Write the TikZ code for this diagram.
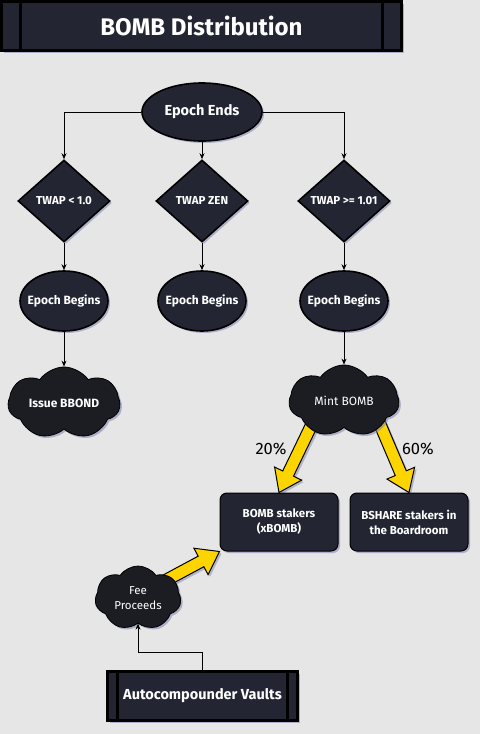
\documentclass[tikz,border=0pt]{standalone}
\usepackage{fontspec}
\setmainfont{Fira Sans}
\usetikzlibrary{arrows.meta,positioning,shapes.geometric,shapes.symbols,shadows,calc}
\definecolor{pagebg}{RGB}{230,230,230}
\definecolor{nightblue}{RGB}{35,38,50}
\definecolor{cloudblack}{RGB}{27,29,35}
\definecolor{bombyellow}{RGB}{252,212,0}
\definecolor{shadowblue}{RGB}{125,130,175}
\pgfdeclarelayer{back}
\pgfsetlayers{back,main}

% fat yellow arrow from #1 (tail) to #2 (tip)
\newcommand{\fatarrow}[2]{%
  \path (#1) coordinate (ya) (#2) coordinate (yb) ($(yb)!21pt!(ya)$) coordinate (yh);
  \filldraw[goldarrow] ($(ya)!6pt!90:(yb)$) -- ($(yh)!6pt!-90:(ya)$) -- ($(yh)!15pt!-90:(ya)$)
     -- (yb) -- ($(yh)!15pt!90:(ya)$) -- ($(yh)!6pt!90:(ya)$) -- ($(ya)!6pt!-90:(yb)$) -- cycle;}

\tikzset{%
  % Specifications for style of arrows:
   flow/.style={
           -{Stealth[length=6pt,width=5pt]},
           line width=0.8pt,
           black},
   goldarrow/.style={
           fill=bombyellow,
           draw=black,
           line width=1pt,
           drop shadow={shadow xshift=2pt, shadow yshift=-2pt, fill=shadowblue, opacity=0.5}},
  % Specifications for style of nodes:
   shade/.style = {drop shadow={shadow xshift=2pt, shadow yshift=-2pt,
                  fill=shadowblue, opacity=0.55}},
   base/.style = {draw=black, line width=1.6pt, fill=nightblue, text=white,
                  align=center, font=\bfseries, shade},
   epochend/.style = {base, ellipse, inner ysep=0pt, inner xsep=-8pt,
                  minimum width=120pt, minimum height=58pt,
                  font=\bfseries\fontsize{14.5}{17}\selectfont},
   epochbegin/.style = {base, ellipse, inner ysep=0pt, inner xsep=-14pt,
                  minimum width=88pt, minimum height=60pt,
                  font=\bfseries\fontsize{12}{14}\selectfont},
   twap/.style = {base, diamond, inner sep=0pt,
                  minimum width=92pt, minimum height=82pt,
                  font=\bfseries\fontsize{11.5}{13}\selectfont},
   puff/.style = {base, cloud, cloud puffs=7, cloud puff arc=110, cloud ignores aspect,
                  fill=cloudblack, line width=0.8pt, inner sep=0pt,
                  font=\bfseries\fontsize{12}{14}\selectfont},
   stakers/.style = {base, rectangle, rounded corners=7pt, line width=1pt,
                  minimum width=118pt, minimum height=58pt,
                  font=\bfseries\fontsize{11.5}{15}\selectfont},
   banner/.style = {base, rectangle, line width=3pt, inner sep=0pt,
                  path picture={
                    \draw[black, line width=3pt]
                      ([xshift=#1]path picture bounding box.north west) -- ([xshift=#1]path picture bounding box.south west)
                      ([xshift=-#1]path picture bounding box.north east) -- ([xshift=-#1]path picture bounding box.south east);}},
   pct/.style = {text=black, font=\fontsize{16.5}{18}\selectfont},
}

\begin{document}
\begin{tikzpicture}[x=1pt, y=-1pt, node distance=100pt]
  \useasboundingbox (0,0) rectangle (480,734);

  % Specification of nodes (position, etc.)
  \node (title)	[banner=19pt, minimum width=400pt, minimum height=49pt,
                 font=\bfseries\fontsize{24}{28}\selectfont] at (201.5,26)	{BOMB Distribution};
  \node (ends)	[epochend] at (202,112)	{Epoch Ends};

  \node (zen)	[twap, below of=ends, yshift=11pt]	{TWAP ZEN};
  \node (low)	[twap, left of=zen, xshift=-38pt]	{TWAP {\textless} 1.0};
  \node (high)	[twap, right of=zen, xshift=42pt]	{TWAP {\textgreater}= 1.01};

  \node (lowbegin)	[epochbegin, below of=low]	{Epoch Begins};
  \node (zenbegin)	[epochbegin, below of=zen]	{Epoch Begins};
  \node (highbegin)	[epochbegin, below of=high]	{Epoch Begins};

  \node (bbond)	[puff, below of=lowbegin, yshift=-2pt, minimum width=112pt, minimum height=72pt]	{Issue BBOND};
  \node (mint)	[puff, below of=highbegin, minimum width=110pt, minimum height=72pt,
                 font=\fontsize{12}{14}\selectfont]	{Mint BOMB};

  \node (bombstk)	[stakers, below of=mint, xshift=-65pt, yshift=-21pt]	{BOMB stakers\\(xBOMB)};
  \node (bshare)	[stakers, right of=bombstk, xshift=30pt]	{BSHARE stakers in\\the Boardroom};

  \node (fee)	[puff, below of=bombstk, xshift=-141pt, yshift=24pt, minimum width=86pt, minimum height=64pt,
                 font=\fontsize{11.5}{15}\selectfont]	{Fee\\Proceeds};
  \node (vaults)	[banner=10pt, below of=fee, xshift=64.5pt, yshift=2pt, minimum width=190pt, minimum height=49pt,
                 font=\bfseries\fontsize{14.5}{17}\selectfont]	{Autocompounder Vaults};

  \node (p20)	[pct] at ($(mint)+(-73,48)$)	{20\%};
  \node (p60)	[pct] at ($(mint)+(74,48)$)	{60\%};

  % Connectors
  \draw[flow]	(ends.west) -| (low.north);
  \draw[flow]	(ends.east) -| (high.north);
  \draw[flow]	(ends) -- (zen);
  \draw[flow]	(low) -- (lowbegin);
  \draw[flow]	(zen) -- (zenbegin);
  \draw[flow]	(high) -- (highbegin);
  \draw[flow]	(lowbegin) -- (bbond);
  \draw[flow]	(highbegin) -- (mint);
  \draw[flow]	(vaults.north) -- ++(0,-18) -| (fee.south);

  % Yellow shares
  \begin{pgfonlayer}{back}
    \fill[pagebg] (0,0) rectangle (480,734);
    \fatarrow{$(mint)+(-31,21)$}{bombstk.north}
    \fatarrow{$(mint)+(35,21)$}{bshare.north}
    \fatarrow{$(fee)+(21,-14)$}{bombstk.south west}
  \end{pgfonlayer}
\end{tikzpicture}
\end{document}
